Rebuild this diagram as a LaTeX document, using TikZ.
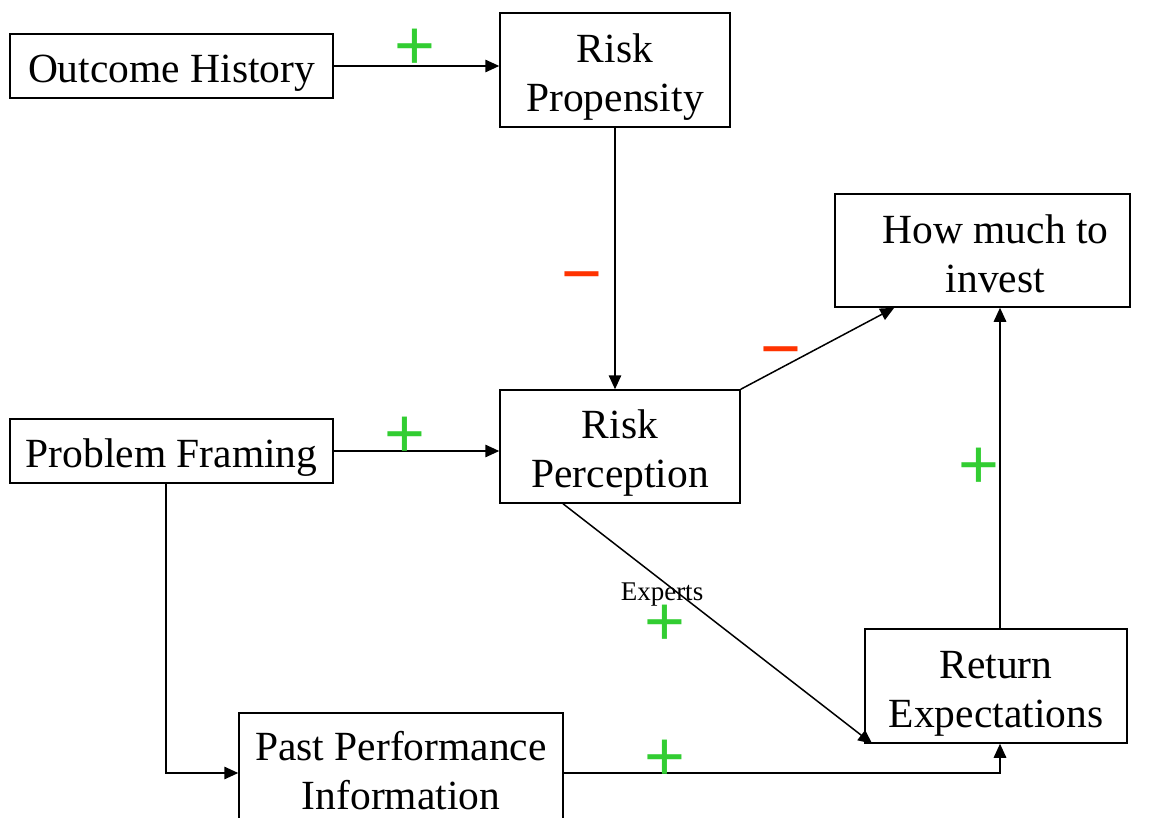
\documentclass[tikz,border=0pt]{standalone}
\usepackage{fontspec}
\setmainfont{Liberation Serif}
\newfontfamily\signfont{Liberation Sans}
\usetikzlibrary{arrows.meta}
\definecolor{plusgreen}{RGB}{50,205,50}
\definecolor{minusred}{RGB}{255,51,0}
\tikzset{
  box/.style={draw, line width=1.5pt, align=center, inner sep=0pt,
    text height=42pt, font=\fontsize{41.5}{49}\selectfont},
  boxtwo/.style={box, text height=91pt},
  arr/.style={line width=1.5pt, -{Triangle[length=14pt,width=12.5pt]}},
  plus/.style={text=plusgreen, anchor=base, inner sep=0pt,
    font=\signfont\fontsize{70}{70}\selectfont},
  minus/.style={text=minusred, anchor=base, inner sep=0pt,
    font=\signfont\fontsize{70}{70}\selectfont},
  lbl/.style={anchor=base, inner sep=0pt, font=\fontsize{27}{30}\selectfont}
}
\begin{document}
\begin{tikzpicture}[x=1pt,y=-1pt]
\useasboundingbox (0,0) rectangle (1159,818);
\node[box, minimum width=323pt, minimum height=64pt] (oh) at (171.5,66) {Outcome History};
\node[boxtwo, minimum width=230pt, minimum height=114pt] (rprop) at (615,70) {Risk\\Propensity};
\node[boxtwo, text height=84pt, minimum width=295pt, minimum height=113pt] (hm) at (982.5,250.5) {\hspace*{26pt}How much to\\\hspace*{26pt}invest};
\node[box, minimum width=323pt, minimum height=64pt] (pf) at (171.5,451) {Problem Framing};
\node[boxtwo, minimum width=240pt, minimum height=113pt] (rp) at (620,446.5) {Risk\\Perception};
\node[boxtwo, minimum width=262pt, minimum height=114pt] (re) at (996,686) {Return\\Expectations};
\node[boxtwo, text height=73pt, minimum width=324pt, minimum height=120pt] (ppi) at (401,773) {Past Performance\\Information};

\draw[arr] (oh.east) -- (oh.east -| rprop.west);
\draw[arr] (rprop.south) -- (rprop.south |- rp.north);
\draw[arr] (pf.east) -- (pf.east -| rp.west);
\draw[arr] (rp.north east) -- ([xshift=60pt]hm.south west);
\draw[arr] ([xshift=4pt]re.north) -- ([xshift=4pt]re.north |- hm.south);
\draw[arr] ([xshift=-57pt]rp.south) -- ([xshift=8pt]re.south west);
\draw[arr] ([xshift=-5.5pt]pf.south) |- (ppi.west);
\draw[arr] (ppi.east) -| ([xshift=4pt]re.south);

\node[plus] (p1) at (415,70) {+};
\node[minus] (m1) at (582,298) {−};
\node[plus] (p2) at (405,457) {+};
\node[minus] (m2) at (781,372) {−};
\node[plus] (p3) at (979,488) {+};
\node[lbl] (ex) at (662,600) {Experts};
\node[plus] (p4) at (665,645) {+};
\node[plus] (p5) at (665,780) {+};
\end{tikzpicture}
\end{document}
